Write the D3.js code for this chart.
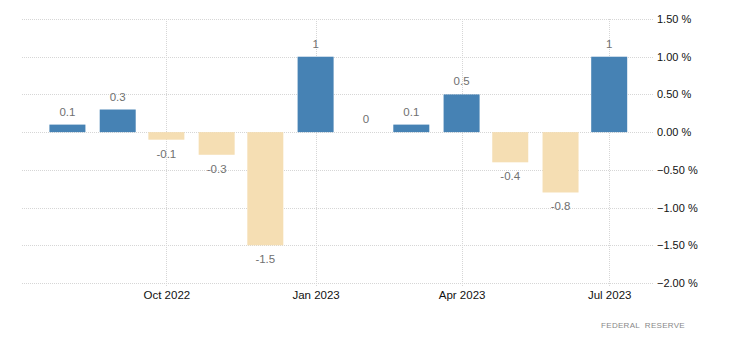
<!DOCTYPE html>
<html>
<head>
<meta charset="utf-8">
<script src="https://cdn.jsdelivr.net/npm/d3@7"></script>
<style>
  html, body { margin: 0; padding: 0; background: #fff; }
  svg { display: block; font-family: "Liberation Sans", Arial, sans-serif; }
</style>
</head>
<body>
<svg id="chart" width="730" height="340"></svg>
<script>
// Monthly change, Aug 2022 – Jul 2023
const months = ["2022-08-01","2022-09-01","2022-10-01","2022-11-01","2022-12-01","2023-01-01",
                "2023-02-01","2023-03-01","2023-04-01","2023-05-01","2023-06-01","2023-07-01"];
const values = [0.1, 0.3, -0.1, -0.3, -1.5, 1, 0, 0.1, 0.5, -0.4, -0.8, 1];
const xTickDates = ["2022-10-01","2023-01-01","2023-04-01","2023-07-01"];
const yTicks = [1.5, 1.0, 0.5, 0, -0.5, -1.0, -1.5, -2.0];
const source = "FEDERAL  RESERVE";

const parse = d3.timeParse("%Y-%m-%d");
const data = months.map((m, i) => ({ date: parse(m), value: values[i] }));

const svg = d3.select("#chart");
const plot = { left: 22, right: 653, top: 19, bottom: 283 };

const x = d3.scaleTime()
  .domain([parse("2022-07-04"), parse("2023-07-28")])
  .range([plot.left, plot.right]);
const y = d3.scaleLinear().domain([1.5, -2.0]).range([plot.top, plot.bottom]);

const gridColor = "#d6d6d6";
const barW = 36;

// right-side axis labels
const yAxis = d3.axisRight(y)
  .tickValues(yTicks)
  .tickSize(0)
  .tickPadding(4)
  .tickFormat(d => d3.format(".2f")(d) + " %");
const gy = svg.append("g").attr("transform", `translate(${plot.right},0)`).call(yAxis);
gy.select(".domain").remove();
gy.selectAll("text").attr("font-size", 11).attr("fill", "#111");

// horizontal grid
svg.append("g").selectAll("line").data(yTicks).join("line")
  .attr("x1", plot.left).attr("x2", plot.right)
  .attr("y1", d => Math.round(y(d)) + 0.5).attr("y2", d => Math.round(y(d)) + 0.5)
  .attr("stroke", gridColor).attr("stroke-dasharray", "1,1");

// vertical grid at quarter months
const qDates = xTickDates.map(parse);
svg.append("g").selectAll("line").data(qDates).join("line")
  .attr("x1", d => Math.round(x(d)) + 0.5).attr("x2", d => Math.round(x(d)) + 0.5)
  .attr("y1", plot.top).attr("y2", plot.bottom + 4)
  .attr("stroke", gridColor).attr("stroke-dasharray", "1,1");

// x axis labels
const xAxis = d3.axisBottom(x)
  .tickValues(qDates)
  .tickSize(0)
  .tickPadding(8)
  .tickFormat(d3.timeFormat("%b %Y"));
const gx = svg.append("g").attr("transform", `translate(0,${plot.bottom})`).call(xAxis);
gx.select(".domain").remove();
gx.selectAll("text").attr("font-size", 11.5).attr("fill", "#111");

// bars
svg.append("g").selectAll("rect").data(data.filter(d => d.value !== 0)).join("rect")
  .attr("x", d => x(d.date) - barW / 2)
  .attr("width", barW)
  .attr("y", d => y(Math.max(0, d.value)))
  .attr("height", d => Math.abs(y(d.value) - y(0)))
  .attr("fill", d => d.value > 0 ? "#4682b4" : "#f5deb3");

// value labels
svg.append("g").selectAll("text").data(data).join("text")
  .attr("x", d => x(d.date))
  .attr("y", d => d.value >= 0 ? y(d.value) - 9 : y(d.value) + 18)
  .attr("text-anchor", "middle")
  .attr("font-size", 11.5)
  .attr("fill", "#707070")
  .text(d => String(d.value));

// source note
svg.append("text")
  .attr("x", 685).attr("y", 328)
  .attr("text-anchor", "end")
  .attr("font-size", 8)
  .attr("fill", "#888")
  .attr("letter-spacing", 0.3)
  .style("white-space", "pre")
  .text(source);
</script>
</body>
</html>
